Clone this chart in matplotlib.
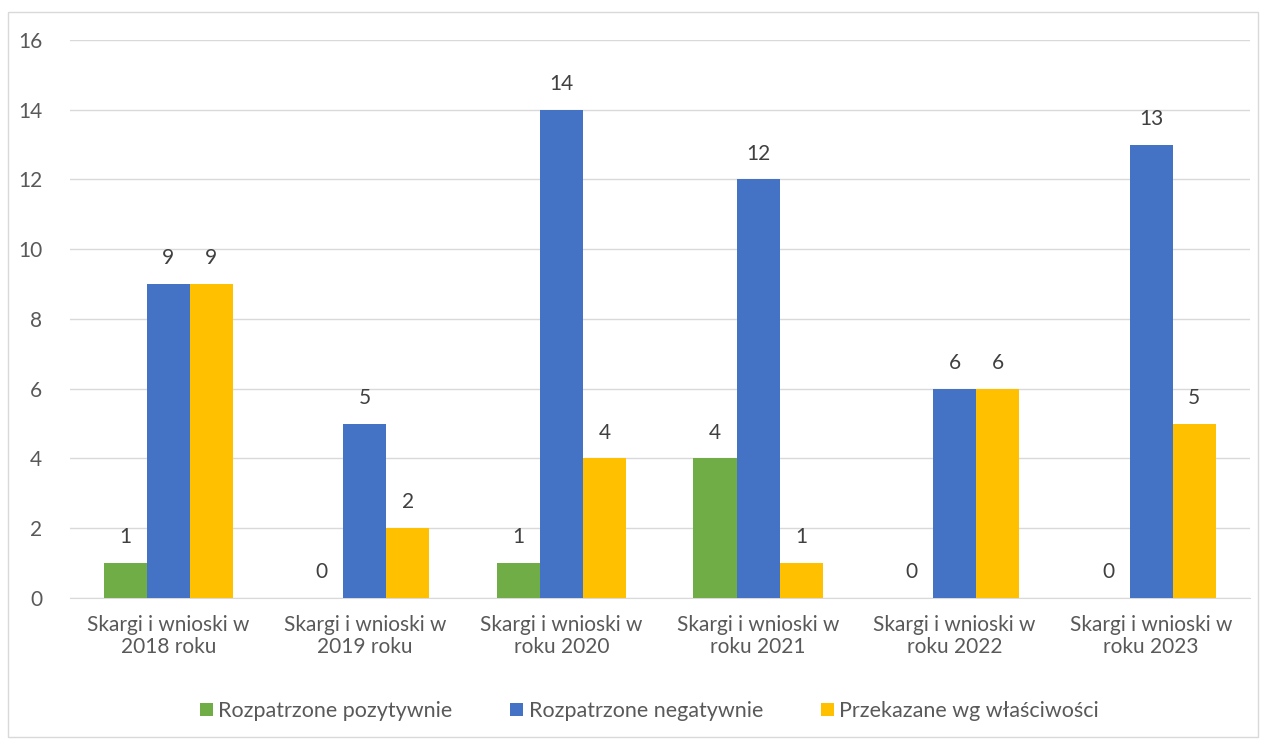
import matplotlib.pyplot as plt
import numpy as np
from matplotlib.patches import Rectangle

categories = ["Skargi i wnioski w\n2018 roku", "Skargi i wnioski w\n2019 roku",
              "Skargi i wnioski w\nroku 2020", "Skargi i wnioski w\nroku 2021",
              "Skargi i wnioski w\nroku 2022", "Skargi i wnioski w\nroku 2023"]
pozytywnie = [1, 0, 1, 4, 0, 0]
negatywnie = [9, 5, 14, 12, 6, 13]
przekazane = [9, 2, 4, 1, 6, 5]
series_names = ["Rozpatrzone pozytywnie", "Rozpatrzone negatywnie", "Przekazane wg właściwości"]
colors = ["#70AD47", "#4472C4", "#FFC000"]

plt.rcParams["font.family"] = ["Lato", "DejaVu Sans"]
txt = "#595959"

fig = plt.figure(figsize=(12.66, 7.4), dpi=100)
ax = fig.add_axes([0.0553, 0.192, 0.9317, 0.754])

# chart frame
fig.patches.append(Rectangle((8 / 1266, 3 / 740), 1250 / 1266, 725 / 740, transform=fig.transFigure,
                             fill=False, edgecolor="#D9D9D9", linewidth=1))

x = np.arange(len(categories))
w = 0.219
for i, (vals, name, c) in enumerate(zip([pozytywnie, negatywnie, przekazane], series_names, colors)):
    bars = ax.bar(x + (i - 1) * w, vals, w, color=c, label=name, zorder=3)
    for b, v in zip(bars, vals):
        ax.text(b.get_x() + b.get_width() / 2, v + 0.45, str(v), ha="center", va="bottom",
                fontsize=15, color="#404040")

ax.set_xlim(-0.5, len(categories) - 0.5)
ax.set_ylim(0, 16)
ax.set_yticks(range(0, 17, 2))
ax.yaxis.grid(True, color="#D9D9D9", linewidth=1, zorder=0)
ax.set_axisbelow(True)
for s in ["top", "right", "left"]:
    ax.spines[s].set_visible(False)
ax.spines["bottom"].set_color("#D9D9D9")
ax.tick_params(axis="both", length=0, labelsize=15, colors=txt)
ax.tick_params(axis="y", pad=20)
ax.tick_params(axis="x", pad=12)
ax.set_xticks(x)
ax.set_xticklabels(categories, linespacing=1.15)

fig.legend(loc="center", bbox_to_anchor=(0.513, 0.039), ncol=3, frameon=False, fontsize=15.5,
           handlelength=0.6, handleheight=0.6, handletextpad=0.25, columnspacing=2.7,
           labelcolor=txt)

fig.savefig("out.png", dpi=100)
